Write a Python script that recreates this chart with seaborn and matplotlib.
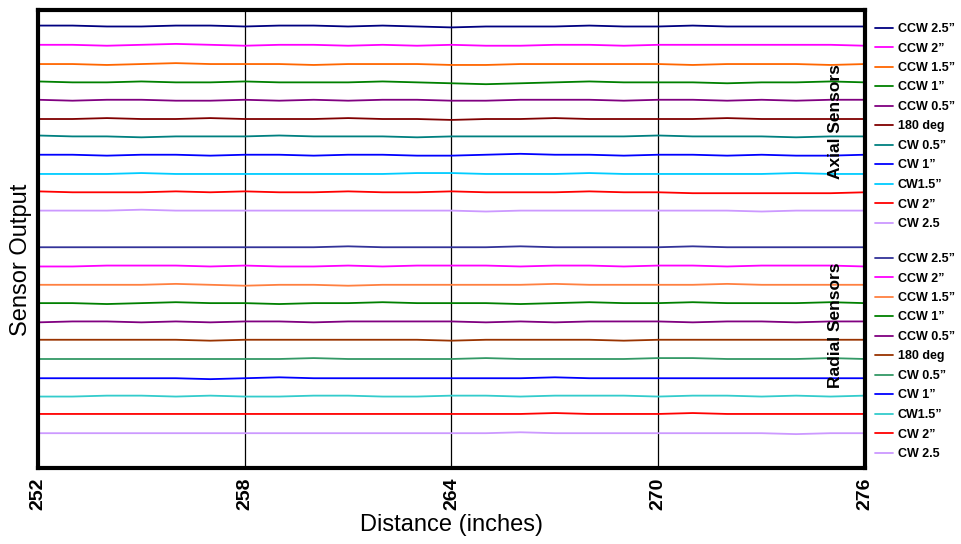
import matplotlib
matplotlib.use("Agg")
import matplotlib.pyplot as plt
import seaborn as sns
import numpy as np
import pandas as pd
from matplotlib.lines import Line2D

distance = list(range(252, 277))
labels = ["CCW 2.5\u201d", "CCW 2\u201d", "CCW 1.5\u201d", "CCW 1\u201d", "CCW 0.5\u201d", "180 deg",
          "CW 0.5\u201d", "CW 1\u201d", "CW1.5\u201d", "CW 2\u201d", "CW 2.5"]

a_ccw25 = [4.83,4.83,4.82,4.82,4.83,4.83,4.82,4.83,4.83,4.82,4.83,4.82,4.81,4.82,4.82,4.82,4.83,4.82,4.82,4.83,4.82,4.82,4.82,4.82,4.82]
a_ccw2 = [4.62,4.62,4.61,4.62,4.63,4.62,4.61,4.62,4.62,4.61,4.62,4.61,4.62,4.61,4.61,4.62,4.62,4.61,4.62,4.62,4.62,4.62,4.62,4.62,4.61]
a_ccw15 = [4.41,4.41,4.40,4.41,4.42,4.41,4.41,4.41,4.40,4.41,4.41,4.41,4.40,4.40,4.41,4.41,4.41,4.41,4.41,4.40,4.41,4.41,4.41,4.40,4.41]
a_ccw1 = [4.22,4.21,4.21,4.22,4.21,4.21,4.22,4.21,4.21,4.21,4.22,4.21,4.20,4.19,4.20,4.21,4.22,4.21,4.21,4.21,4.20,4.21,4.21,4.22,4.21]
a_ccw05 = [4.02,4.01,4.02,4.02,4.01,4.01,4.02,4.01,4.02,4.01,4.02,4.02,4.01,4.01,4.02,4.02,4.02,4.01,4.02,4.02,4.01,4.02,4.01,4.02,4.02]
a_180 = [3.81,3.81,3.82,3.81,3.81,3.82,3.81,3.81,3.81,3.82,3.81,3.81,3.80,3.81,3.81,3.82,3.81,3.81,3.81,3.81,3.82,3.81,3.81,3.81,3.81]
a_cw05 = [3.63,3.62,3.62,3.61,3.62,3.62,3.62,3.63,3.62,3.62,3.62,3.61,3.62,3.62,3.62,3.62,3.62,3.62,3.63,3.62,3.62,3.62,3.61,3.62,3.62]
a_cw1 = [3.42,3.42,3.41,3.42,3.42,3.41,3.42,3.42,3.41,3.42,3.42,3.41,3.41,3.42,3.43,3.42,3.42,3.41,3.42,3.42,3.41,3.42,3.41,3.41,3.42]
a_cw15 = [3.21,3.21,3.21,3.22,3.21,3.21,3.21,3.21,3.21,3.21,3.21,3.22,3.22,3.21,3.21,3.21,3.22,3.21,3.21,3.21,3.21,3.21,3.22,3.21,3.21]
a_cw2 = [3.02,3.01,3.01,3.01,3.02,3.01,3.02,3.01,3.01,3.02,3.01,3.01,3.02,3.01,3.01,3.01,3.02,3.01,3.01,3.00,3.00,3.00,3.00,3.00,3.01]
a_cw25 = [2.81,2.81,2.81,2.82,2.81,2.81,2.81,2.81,2.81,2.81,2.81,2.81,2.81,2.80,2.81,2.81,2.81,2.81,2.81,2.81,2.81,2.80,2.81,2.81,2.81]

r_ccw25 = [2.41,2.41,2.41,2.41,2.41,2.41,2.41,2.41,2.41,2.42,2.41,2.41,2.41,2.41,2.42,2.41,2.41,2.41,2.41,2.42,2.41,2.41,2.41,2.41,2.41]
r_ccw2 = [2.20,2.20,2.21,2.21,2.21,2.20,2.21,2.20,2.20,2.21,2.20,2.21,2.21,2.21,2.20,2.21,2.21,2.20,2.21,2.21,2.20,2.21,2.21,2.21,2.20]
r_ccw15 = [2.00,2.00,2.00,2.00,2.01,2.00,1.99,2.00,2.00,1.99,2.00,2.00,2.00,2.00,2.00,2.01,2.00,2.00,2.00,2.00,2.01,2.00,2.00,2.00,2.00]
r_ccw1 = [1.80,1.80,1.79,1.80,1.81,1.80,1.80,1.79,1.80,1.80,1.81,1.80,1.80,1.80,1.79,1.80,1.81,1.80,1.80,1.81,1.80,1.80,1.80,1.81,1.80]
r_ccw05 = [1.59,1.60,1.60,1.59,1.60,1.59,1.60,1.60,1.59,1.60,1.60,1.60,1.60,1.59,1.60,1.59,1.60,1.60,1.60,1.59,1.60,1.60,1.59,1.60,1.60]
r_180 = [1.40,1.40,1.40,1.40,1.40,1.39,1.40,1.40,1.40,1.40,1.40,1.40,1.39,1.40,1.40,1.40,1.40,1.39,1.40,1.40,1.40,1.40,1.40,1.40,1.40]
r_cw05 = [1.19,1.19,1.19,1.19,1.19,1.19,1.19,1.19,1.20,1.19,1.19,1.19,1.19,1.20,1.19,1.19,1.19,1.19,1.20,1.20,1.19,1.19,1.19,1.20,1.19]
r_cw1 = [0.98,0.98,0.98,0.98,0.98,0.97,0.98,0.99,0.98,0.98,0.98,0.98,0.98,0.98,0.98,0.99,0.98,0.98,0.98,0.98,0.98,0.98,0.98,0.98,0.98]
r_cw15 = [0.78,0.78,0.79,0.79,0.78,0.79,0.78,0.78,0.79,0.79,0.78,0.78,0.79,0.79,0.78,0.79,0.79,0.79,0.78,0.79,0.79,0.78,0.79,0.78,0.79]
r_cw2 = [0.59,0.59,0.59,0.59,0.59,0.59,0.59,0.59,0.59,0.59,0.59,0.59,0.59,0.59,0.59,0.60,0.59,0.59,0.59,0.60,0.59,0.59,0.59,0.59,0.59]
r_cw25 = [0.38,0.38,0.38,0.38,0.38,0.38,0.38,0.38,0.38,0.38,0.38,0.38,0.38,0.38,0.39,0.38,0.38,0.38,0.38,0.38,0.38,0.38,0.37,0.38,0.38]

axial = [a_ccw25, a_ccw2, a_ccw15, a_ccw1, a_ccw05, a_180, a_cw05, a_cw1, a_cw15, a_cw2, a_cw25]
radial = [r_ccw25, r_ccw2, r_ccw15, r_ccw1, r_ccw05, r_180, r_cw05, r_cw1, r_cw15, r_cw2, r_cw25]

axial_colors = ["#000080", "#FF00FF", "#FF6600", "#008000", "#800080", "#800000",
                "#008080", "#0000FF", "#00CCFF", "#FF0000", "#CC99FF"]
radial_colors = ["#333399", "#FF00FF", "#FF8040", "#008000", "#800080", "#993300",
                 "#339966", "#0000FF", "#33CCCC", "#FF0000", "#CC99FF"]

sns.set_style("white")
plt.rcParams['font.family'] = ['Liberation Sans', 'DejaVu Sans']
plt.rcParams['text.color'] = 'black'
plt.rcParams['axes.labelcolor'] = 'black'
plt.rcParams['xtick.color'] = 'black'
plt.rcParams['ytick.color'] = 'black'

fig = plt.figure(figsize=(9.61, 5.44), dpi=100)
ax = fig.add_axes([38/961, 1-468/544, (865-38)/961, (468-10)/544])

for vals, c in zip(axial + radial, axial_colors + radial_colors):
    sns.lineplot(x=distance, y=vals, color=c, linewidth=1.3, ax=ax)

ax.set_xlim(252, 276)
ax.set_ylim(0, 5)
ax.set_xticks([252, 258, 264, 270, 276])
ax.set_xticklabels(["252", "258", "264", "270", "276"], rotation=90,
                   fontsize=14, fontweight='bold')
ax.set_yticks([0, 1, 2, 3, 4, 5])
ax.set_yticklabels([])
ax.tick_params(axis='both', direction='out', length=3, width=1.5, color='black', pad=4)
for x in [258, 264, 270]:
    ax.axvline(x, color='black', linewidth=0.9, zorder=0)
for s in ax.spines.values():
    s.set_linewidth(3)
    s.set_color('black')

ax.set_xlabel("Distance (inches)", fontsize=17, labelpad=3)
ax.set_ylabel("Sensor Output", fontsize=17)
ax.yaxis.set_label_coords(-6/827, 0.455)

def mk(colors):
    return [Line2D([0], [0], color=c, linewidth=1.3) for c in colors]

leg_kw = dict(loc='upper left', frameon=False, prop={'size': 9, 'weight': 'bold'},
              handlelength=1.45, handletextpad=0.35, labelspacing=0.6,
              borderpad=0, borderaxespad=0)
leg1 = fig.legend(mk(axial_colors), labels, bbox_to_anchor=(875/961, 1-23/544), **leg_kw)
leg2 = fig.legend(mk(radial_colors), labels, bbox_to_anchor=(875/961, 1-253/544), **leg_kw)

fig.text(836/961, 1-122/544, "Axial Sensors", rotation=90, ha='center', va='center',
         fontsize=12.5, fontweight='bold')
fig.text(836/961, 1-325/544, "Radial Sensors", rotation=90, ha='center', va='center',
         fontsize=12.5, fontweight='bold')

fig.savefig("out.png", dpi=100)
